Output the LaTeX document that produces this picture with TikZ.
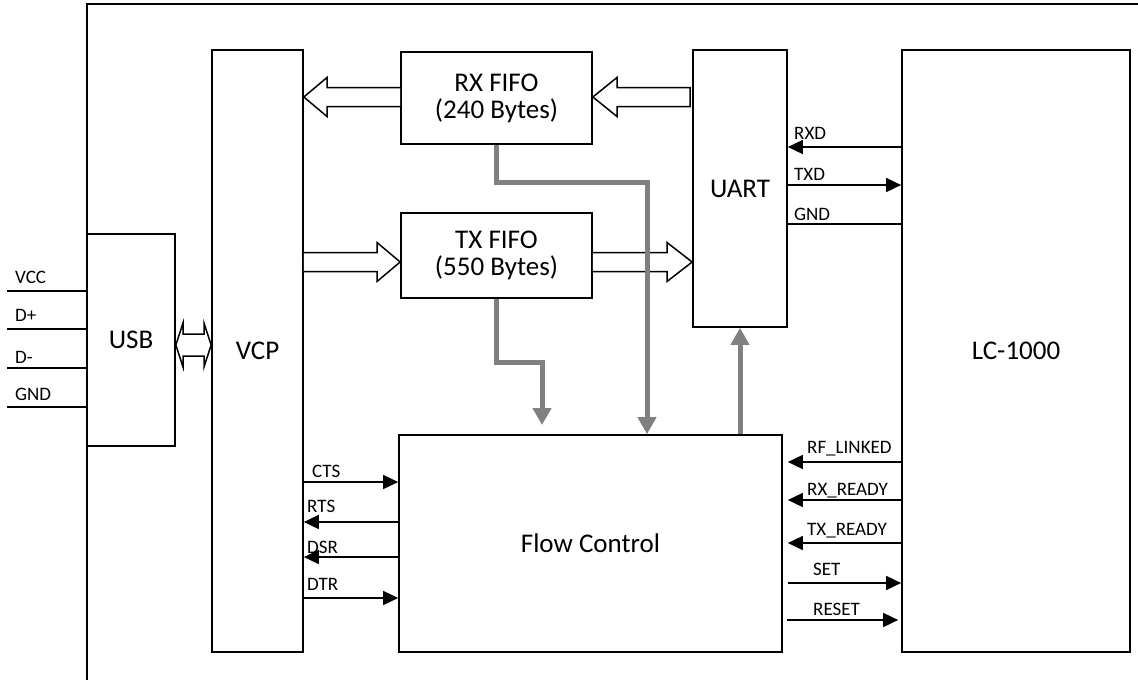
\documentclass[tikz,border=0pt]{standalone}
\usepackage{fontspec}
\setmainfont{Carlito}
\usetikzlibrary{arrows.meta}
\definecolor{graylc}{RGB}{128,128,128}
\begin{document}
\begin{tikzpicture}[x=1pt,y=-1pt,
  box/.style={draw, line width=1.7pt, inner sep=0pt, font=\fontsize{27}{27}\selectfont, align=center},
  lbl/.style={font=\fontsize{19}{20}\selectfont, inner sep=0pt, anchor=base west},
  sig/.style={line width=1.7pt, -{Triangle[length=15pt,width=14pt]}},
  wire/.style={line width=1.7pt},
  gry/.style={line width=5pt, draw=graylc, -{Triangle[length=17pt,width=18pt]}},
  hollow/.style={draw, line width=1.5pt, fill=white, line join=miter}
]
\useasboundingbox (0,0) rectangle (1138,680);
% outer frame
\draw[wire] (87,680) -- (87,4) -- (1138,4);

% blocks
\node[box, minimum width=88, minimum height=212] (usb) at (131,340) {USB};
\node[box, minimum width=91, minimum height=602] (vcp) at (257.5,351) {VCP};
\node[box, minimum width=191, minimum height=92] (rx) at (496.5,98) {RX FIFO\\(240 Bytes)};
\node[box, minimum width=191, minimum height=85] (tx) at (496.5,255.5) {TX FIFO\\(550 Bytes)};
\node[box, minimum width=94, minimum height=277] (uart) at (740,188.5) {UART};
\node[box, minimum width=228, minimum height=602] (lc) at (1016,351) {LC-1000};
\node[box, minimum width=383, minimum height=217] (fc) at (590.5,543.5) {Flow Control};

% USB pins
\coordinate (pvcc) at (7,291);
\coordinate (pdp) at (7,329);
\coordinate (pdm) at (7,368);
\coordinate (pgnd) at (7,407);
\draw[wire] (pvcc) -- (usb.west |- pvcc);
\draw[wire] (pdp) -- (usb.west |- pdp);
\draw[wire] (pdm) -- (usb.west |- pdm);
\draw[wire] (pgnd) -- (usb.west |- pgnd);
\node[lbl] (lvcc) at (15,283) {VCC};
\node[lbl] (ldp) at (15,321) {D+};
\node[lbl] (ldm) at (15,363) {D-};
\node[lbl] (lgnd) at (15,400) {GND};

% USB <-> VCP double block arrow
\draw[hollow] (usb.east |- 0,345) -- (183,323) -- (183,334) -- (204,334) -- (204,323)
  -- (vcp.west |- 0,345) -- (204,367) -- (204,356) -- (183,356) -- (183,367) -- cycle;

% RX FIFO -> VCP
\draw[hollow] (rx.west |- 0,87.5) -- (327,87.5) -- (327,77.5) -- (vcp.east |- 0,97)
  -- (327,116.5) -- (327,106.5) -- (rx.west |- 0,106.5);
% UART -> RX FIFO
\draw[hollow] (690,87.5) -- (617,87.5) -- (617,77.5) -- (rx.east |- 0,97)
  -- (617,116.5) -- (617,106.5) -- (690,106.5) -- cycle;
% VCP -> TX FIFO
\draw[hollow] (vcp.east |- 0,252.5) -- (377,252.5) -- (377,242.5) -- (tx.west |- 0,262)
  -- (377,281.5) -- (377,271.5) -- (vcp.east |- 0,271.5);
% TX FIFO -> UART
\draw[hollow] (tx.east |- 0,252.5) -- (667,252.5) -- (667,242.5) -- (uart.west |- 0,262)
  -- (667,281.5) -- (667,271.5) -- (tx.east |- 0,271.5);

% gray control arrows
\draw[gry] (rx.south) |- (647,182) -- (fc.north -| 647,0);
\draw[gry] (tx.south) |- (542,362) -- (542,425);
\draw[gry] (fc.north -| uart.south) -- (uart.south);

% UART <-> LC-1000
\draw[sig] (lc.west |- 0,147) -- (uart.east |- 0,147);
\draw[sig] (uart.east |- 0,185) -- (lc.west |- 0,185);
\draw[wire] (uart.east |- 0,224) -- (lc.west |- 0,224);
\node[lbl] (lrxd) at (794,139) {RXD};
\node[lbl] (ltxd) at (794,180) {TXD};
\node[lbl] (lgnd2) at (794,220) {GND};

% VCP <-> Flow Control
\draw[sig] (vcp.east |- 0,482) -- (fc.west |- 0,482);
\draw[sig] (fc.west |- 0,522) -- (vcp.east |- 0,522);
\draw[sig] (fc.west |- 0,557) -- (vcp.east |- 0,557);
\draw[sig] (vcp.east |- 0,598) -- (fc.west |- 0,598);
\node[lbl] (lcts) at (312,477) {CTS};
\node[lbl] (lrts) at (307,512) {RTS};
\node[lbl] (ldsr) at (307,553) {DSR};
\node[lbl] (ldtr) at (307,590) {DTR};

% Flow Control <-> LC-1000
\draw[sig] (lc.west |- 0,462) -- ([xshift=5]fc.east |- 0,462);
\draw[sig] (lc.west |- 0,500) -- ([xshift=5]fc.east |- 0,500);
\draw[sig] (lc.west |- 0,543) -- ([xshift=5]fc.east |- 0,543);
\draw[sig] ([xshift=5]fc.east |- 0,583) -- (lc.west |- 0,583);
\draw[sig] ([xshift=4]fc.east |- 0,620) -- ([xshift=-3]lc.west |- 0,620);
\node[lbl] (lrfl) at (807,453) {RF\_LINKED};
\node[lbl] (lrxr) at (807,495) {RX\_READY};
\node[lbl] (ltxr) at (807,535) {TX\_READY};
\node[lbl] (lset) at (813,575) {SET};
\node[lbl] (lrst) at (813,615) {RESET};
\end{tikzpicture}
\end{document}
